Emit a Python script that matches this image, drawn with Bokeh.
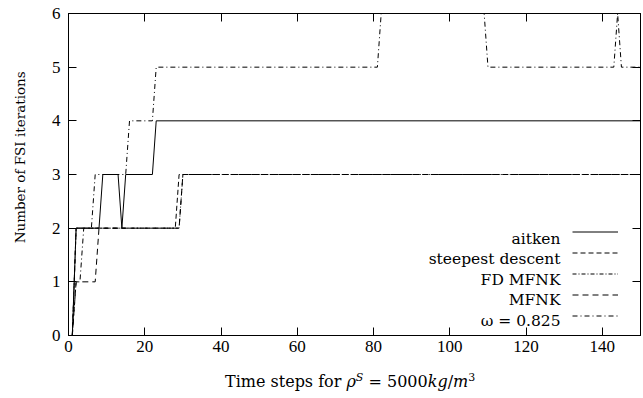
from bokeh.plotting import figure
from bokeh.models import Range1d, FixedTicker, LinearAxis, Label, Legend, LegendItem, Div
from bokeh.layouts import column
from bokeh.core.properties import value
from bokeh.embed import file_html
from bokeh.resources import INLINE

# ---- data (breakpoints of each step series: time step, FSI iterations) ----
aitken_x = [1, 2, 8, 9, 13, 14, 15, 22, 23, 150]
aitken_y = [0, 2, 2, 3, 3, 2, 3, 3, 4, 4]

steepest_x = [1, 2, 28, 29, 150]
steepest_y = [0, 2, 2, 3, 3]

fdmfnk_x = [1, 2, 29, 30, 150]
fdmfnk_y = [0, 2, 2, 3, 3]

mfnk_x = [1, 2, 7, 8, 29, 30, 150]
mfnk_y = [0, 1, 1, 2, 2, 3, 3]

omega_x = [1, 2, 3, 4, 6, 7, 15, 16, 22, 23, 81, 82, 109, 110, 143, 144, 145, 150]
omega_y = [0, 1, 1, 2, 2, 3, 3, 4, 4, 5, 5, 6, 6, 5, 5, 6, 5, 5]

series_names = ["aitken", "steepest descent", "FD MFNK", "MFNK", "\u03c9 = 0.825"]
x_ticks = [0, 20, 40, 60, 80, 100, 120, 140]
y_ticks = [0, 1, 2, 3, 4, 5, 6]

LBL_FONT = "DejaVu Serif"
TICK_FONT = "Liberation Serif"

p = figure(width=643, height=366, x_range=Range1d(0, 150), y_range=Range1d(0, 6),
           output_backend="svg", toolbar_location=None,
           min_border_left=68, min_border_right=3, min_border_top=13, min_border_bottom=31)
p.xgrid.visible = False
p.ygrid.visible = False
p.outline_line_color = "black"
p.outline_line_width = 1
p.outline_line_alpha = 1
p.background_fill_color = "white"
p.border_fill_color = "white"

p.xaxis.ticker = FixedTicker(ticks=x_ticks)
p.yaxis.ticker = FixedTicker(ticks=y_ticks)
for ax in (p.xaxis[0], p.yaxis[0]):
    ax.major_tick_in = 8
    ax.major_tick_out = 0
    ax.minor_tick_in = 0
    ax.minor_tick_out = 0
    ax.axis_line_color = "black"
    ax.major_tick_line_color = "black"
    ax.major_label_text_font = TICK_FONT
    ax.major_label_text_font_size = "17px"
    ax.major_label_text_color = "black"
p.xaxis.major_label_standoff = 5
p.yaxis.major_label_standoff = 8

# y-axis title on its own (tick-less) left axis; leading no-break spaces lift it
# slightly above the frame centre, as in the reference
ylabel_axis = LinearAxis(ticker=FixedTicker(ticks=[]),
                         axis_label="\u00a0" * 8 + "Number of FSI iterations",
                         axis_label_text_font=LBL_FONT, axis_label_text_font_size="13.5px",
                         axis_label_text_font_style="normal", axis_label_text_color="black",
                         axis_label_standoff=21, axis_line_color=None,
                         major_tick_in=0, major_tick_out=0, minor_tick_in=0, minor_tick_out=0,
                         major_label_text_color=None, major_label_text_font_size="1px",
                         major_label_standoff=0)
p.add_layout(ylabel_axis, "left")

for loc, ticks in (("right", y_ticks), ("above", x_ticks)):
    ax = LinearAxis(ticker=FixedTicker(ticks=ticks), major_label_text_font_size="1px",
                    major_label_text_color=None,
                    major_label_standoff=0, major_tick_in=8, major_tick_out=0,
                    minor_tick_in=0, minor_tick_out=0, axis_line_color="black",
                    major_tick_line_color="black")
    p.add_layout(ax, loc)

styles = [None, "5 3", "4 2 1 2", "6 4", "5 3 1 3"]
xs = [aitken_x, steepest_x, fdmfnk_x, mfnk_x, omega_x]
ys = [aitken_y, steepest_y, fdmfnk_y, mfnk_y, omega_y]
renderers = []
for x, y, dash in zip(xs, ys, styles):
    kw = dict(line_color="black", line_width=1)
    if dash:
        kw["line_dash"] = dash
    renderers.append(p.line(x, y, **kw))

# legend samples (glyphs on the right), labels right-aligned to their left
legend = Legend(items=[LegendItem(label=value(" "), renderers=[r]) for r in renderers],
                location=(504, 9), glyph_width=46, glyph_height=21, spacing=0,
                padding=0, margin=0, label_standoff=0, label_width=0, label_height=0,
                label_text_font_size="8px", label_text_color=None,
                border_line_color=None, background_fill_alpha=0)
p.add_layout(legend)

leg_baselines = [97, 76.5, 56, 35.5, 15]
for name, yb in zip(series_names, leg_baselines):
    p.add_layout(Label(x=492, y=yb, x_units="screen", y_units="screen", text=name,
                       text_align="right", text_baseline="alphabetic",
                       text_font=LBL_FONT, text_font_size="15.5px", text_color="black"))

# x-axis title as HTML (italic symbols and superscripts)
xtitle_html = (
    "<div style=\"font-family:'DejaVu Serif';font-size:16px;line-height:20px;"
    "color:black;text-align:left;white-space:nowrap;padding-left:225px;padding-top:2px;\">"
    "Time steps for <i>\u03c1</i><sup style='font-size:11px'><i>S</i></sup> = "
    "5000<i>kg</i>/<i>m</i><sup style='font-size:11px'>3</sup></div>"
)
xtitle = Div(text=xtitle_html, width=643, height=32, margin=0)

layout = column(p, xtitle, spacing=0)
open("out.html", "w").write(file_html(layout, INLINE))
